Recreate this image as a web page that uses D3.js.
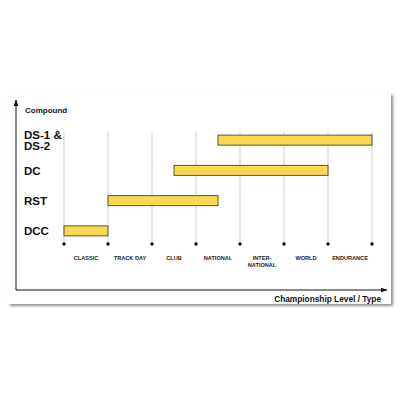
<!DOCTYPE html>
<html><head><meta charset="utf-8">
<script src="https://cdn.jsdelivr.net/npm/d3@7"></script>
<style>body{margin:0;background:#fff}svg{display:block}</style>
</head><body>
<svg id="c" width="400" height="400"></svg>
<script>
const compounds = [["DS-1 &","DS-2"],["DC"],["RST"],["DCC"]];
const barStart = [3.5, 2.5, 1, 0];
const barEnd = [7, 6, 3.5, 1];
const levels = [["CLASSIC"],["TRACK DAY"],["CLUB"],["NATIONAL"],["INTER-","NATIONAL"],["WORLD"],["ENDURANCE"]];
const tickIdx = [0,1,2,3,4,5,6,7];
const font = "'Liberation Sans', Arial, Helvetica, sans-serif";

const svg = d3.select("#c");
const defs = svg.append("defs");
const f = defs.append("filter").attr("id","sh").attr("x","-5%").attr("y","-5%").attr("width","112%").attr("height","115%");
f.append("feDropShadow").attr("dx",2).attr("dy",2).attr("stdDeviation",1.6).attr("flood-color","#000").attr("flood-opacity",0.45);

svg.append("rect").attr("x",8).attr("y",93).attr("width",383).attr("height",211).attr("fill","#fff").attr("filter","url(#sh)");

const x = d3.scaleLinear().domain([0,7]).range([64,372]);
const y = d3.scaleBand().domain(d3.range(compounds.length)).range([125,246]).paddingInner(0.66).paddingOuter(0.33);

// gridlines
svg.append("g").selectAll("line").data(tickIdx).join("line")
  .attr("x1",d=>x(d)).attr("x2",d=>x(d)).attr("y1",132).attr("y2",244)
  .attr("stroke","#cfcfcf").attr("stroke-width",1);
svg.append("g").selectAll("circle").data(tickIdx).join("circle")
  .attr("cx",d=>x(d)).attr("cy",244).attr("r",1.7).attr("fill","#111");

// bars
svg.append("g").selectAll("rect").data(compounds.map((c,i)=>i)).join("rect")
  .attr("x",i=>x(barStart[i])).attr("width",i=>x(barEnd[i])-x(barStart[i]))
  .attr("y",i=>y(i)+y.bandwidth()/2-5).attr("height",10)
  .attr("fill","#f6d94f").attr("stroke","#5c5533").attr("stroke-width",1);

// compound labels
compounds.forEach((c,i)=>{
  const cy = y(i)+y.bandwidth()/2;
  const t = svg.append("text").attr("x",24).attr("font-family",font).attr("font-weight","bold")
    .attr("font-size",11.5).attr("fill","#111");
  const n = c.length;
  c.forEach((s,k)=>{
    t.append("tspan").attr("x",24).attr("y",cy+4.2+(k-(n-1)/2)*10.5).text(s);
  });
});

// level labels
levels.forEach((l,i)=>{
  const cx = (x(i)+x(i+1))/2;
  const t = svg.append("text").attr("text-anchor","middle").attr("font-family",font)
    .attr("font-weight","bold").attr("font-size",5.6).attr("fill","#222");
  l.forEach((s,k)=>t.append("tspan").attr("x",cx).attr("y",260+k*7).text(s));
});

// axes with arrows
const m = defs.append("marker").attr("id","ar").attr("viewBox","0 0 10 10").attr("refX",9).attr("refY",5)
  .attr("markerWidth",7).attr("markerHeight",7).attr("orient","auto-start-reverse");
m.append("path").attr("d","M0,1.5L10,5L0,8.5Z").attr("fill","#111");
svg.append("line").attr("x1",16).attr("x2",16).attr("y1",290).attr("y2",100)
  .attr("stroke","#111").attr("stroke-width",1).attr("marker-end","url(#ar)");
svg.append("line").attr("x1",16).attr("x2",387).attr("y1",290).attr("y2",290)
  .attr("stroke","#111").attr("stroke-width",1).attr("marker-end","url(#ar)");

svg.append("text").attr("x",25).attr("y",113).attr("font-family",font).attr("font-weight","bold")
  .attr("font-size",8).attr("fill","#111").text("Compound");
svg.append("text").attr("x",381).attr("y",302).attr("text-anchor","end").attr("font-family",font)
  .attr("font-weight","bold").attr("font-size",8.3).attr("fill","#111").text("Championship Level / Type");
</script>
</body></html>
